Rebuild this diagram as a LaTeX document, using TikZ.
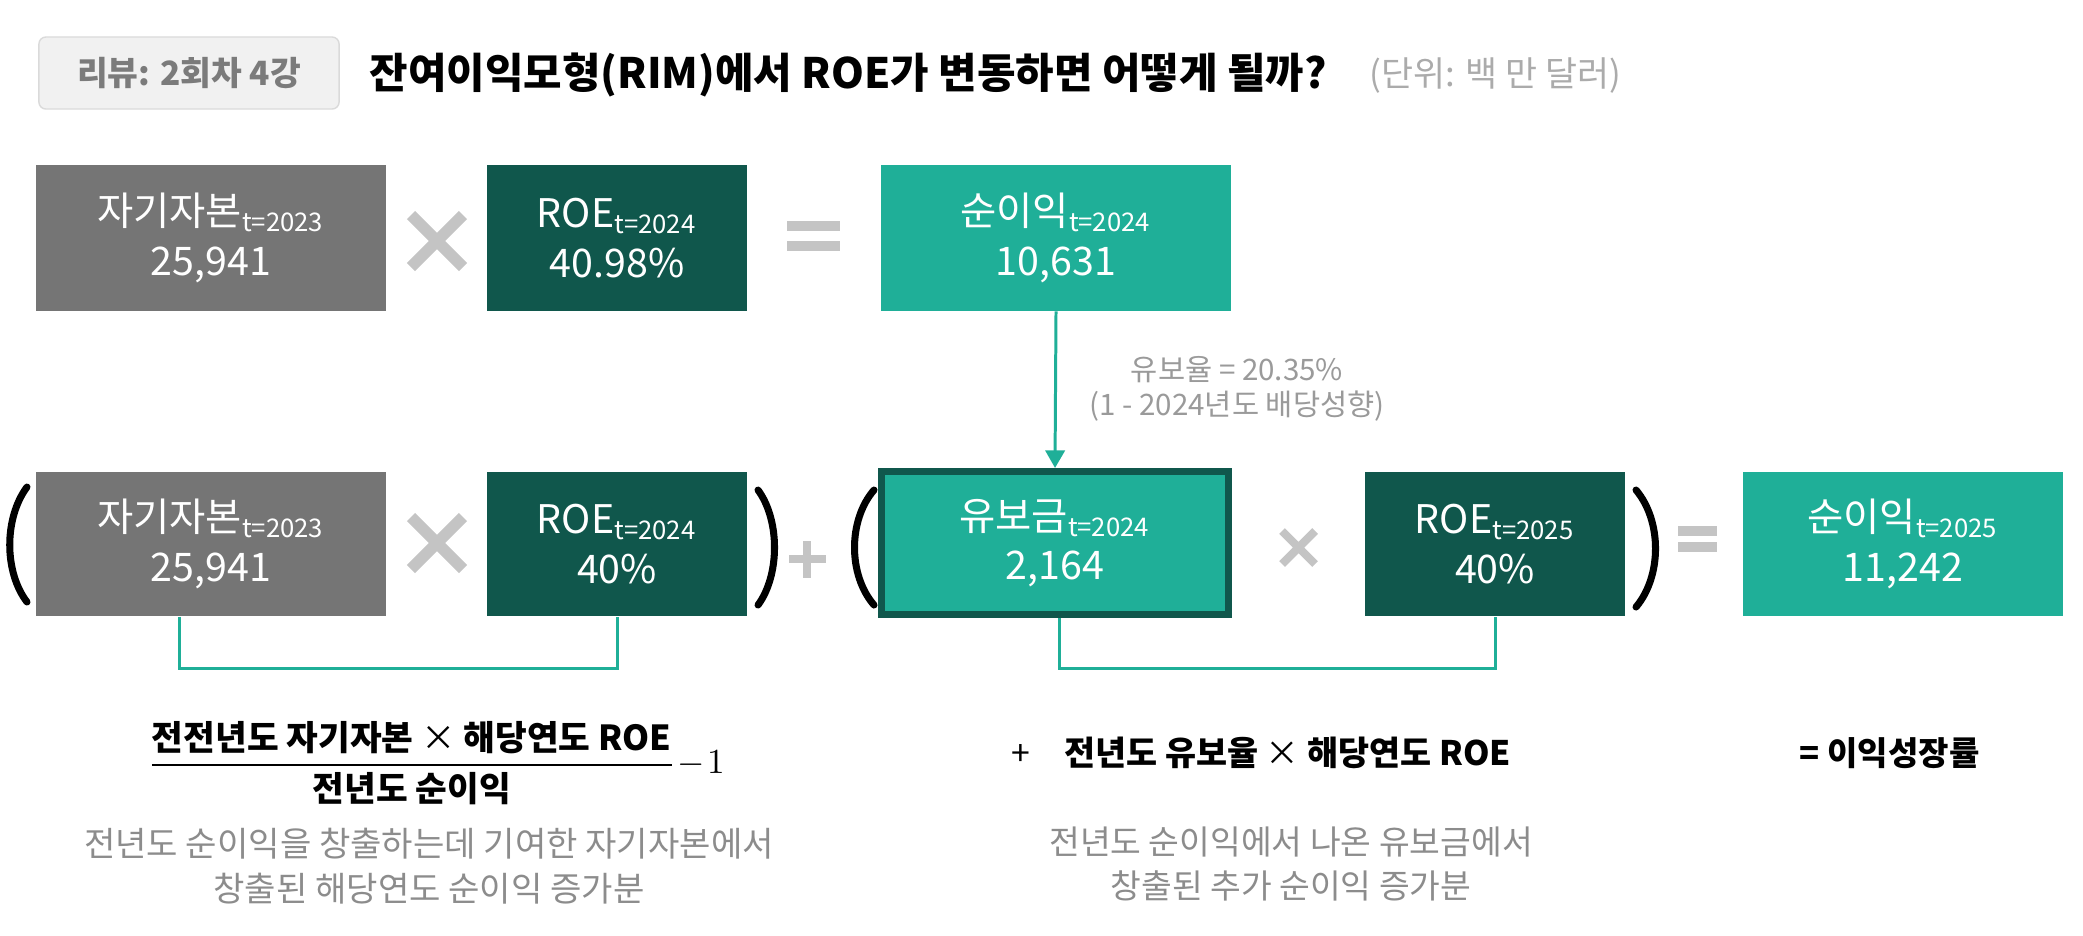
\documentclass[tikz,border=0pt]{standalone}
\usepackage{amsmath}
\usepackage{fontspec}
\setmainfont{Noto Sans CJK KR}
\usetikzlibrary{arrows.meta}

\definecolor{boxgray}{HTML}{757575}
\definecolor{roegreen}{HTML}{10574C}
\definecolor{niteal}{HTML}{1FAF98}
\definecolor{opgray}{HTML}{C4C4C4}
\definecolor{notegray}{HTML}{8C8C8C}
\definecolor{unitgray}{HTML}{ABABAB}
\definecolor{badgefill}{HTML}{F1F1F1}
\definecolor{badgeline}{HTML}{DADADA}
\definecolor{badgetext}{HTML}{7B7B7B}

\newcommand{\yr}[1]{\textsubscript{\fontsize{7.3}{8}\selectfont t=#1}}

\tikzset{
  eqbox/.style={minimum height=1.45cm, inner sep=0pt, text=white, align=center,
    font=\fontsize{11.2}{14}\selectfont},
  txt/.style={inner sep=0pt},
  opline/.style={draw=opgray, line width=3.3pt},
  opthin/.style={draw=opgray, line width=2.3pt},
  paren/.style={line width=2pt, line cap=round},
  link/.style={draw=niteal, line width=0.85pt},
  flow/.style={link, -{Triangle[length=5pt,width=5.5pt]}},
  note/.style={txt, align=center, text=notegray, font=\fontsize{9.7}{13}\selectfont},
  badge/.style={draw=badgeline, fill=badgefill, rounded corners=2pt, minimum width=3.0cm,
    minimum height=0.72cm, text=badgetext, font=\bfseries\fontsize{9.5}{11}\selectfont}
}

\begin{document}
\begin{tikzpicture}[x=0.01cm, y=-0.01cm]
  \fill[white] (0,0) rectangle (2083,935);
  \useasboundingbox (0,0) rectangle (2083,935);

  % header
  \node[badge] (review) at (189,73) {리뷰: 2회차 4강};
  \node[txt, anchor=west, font=\bfseries\fontsize{11.9}{14}\selectfont] (title) at (369,75)
    {잔여이익모형(RIM)에서 ROE가 변동하면 어떻게 될까?};
  \node[txt, anchor=west, text=unitgray, font=\fontsize{9.9}{11}\selectfont] (unit) at (1369,75)
    {(단위: 백 만 달러)};

  % first row
  \node[eqbox, fill=boxgray, minimum width=3.49cm] (capA) at (211,238)
    {자기자본\yr{2023}\\25,941};
  \node[eqbox, fill=roegreen, minimum width=2.60cm] (roeA) at (617,238)
    {ROE\yr{2024}\\40.98\%};
  \node[eqbox, fill=niteal, minimum width=3.50cm] (niA) at (1056,238)
    {순이익\yr{2024}\\10,631};

  \draw[opline] (411,215) -- (463,267) (411,267) -- (463,215);
  \draw[opline, line width=3.1pt] (787,226) -- (840,226) (787,246) -- (840,246);

  % retention
  \node[note, font=\fontsize{8.4}{10}\selectfont, text=unitgray!90!black] (ratio) at (1237,389)
    {유보율 = 20.35\%\\(1 - 2024년도 배당성향)};

  % second row
  \node[eqbox, fill=boxgray, minimum width=3.50cm, minimum height=1.44cm] (capB) at (211,544)
    {자기자본\yr{2023}\\25,941};
  \node[eqbox, fill=roegreen, minimum width=2.60cm, minimum height=1.44cm] (roeB) at (617,544)
    {ROE\yr{2024}\\40\%};
  \node[eqbox, fill=niteal, draw=roegreen, line width=2pt, minimum width=3.47cm,
    minimum height=1.43cm] (retB) at (1055,543)
    {유보금\yr{2024}\\2,164};
  \node[eqbox, fill=roegreen, minimum width=2.60cm, minimum height=1.44cm] (roeC) at (1495,544)
    {ROE\yr{2025}\\40\%};
  \node[eqbox, fill=niteal, minimum width=3.20cm, minimum height=1.44cm] (niB) at (1903,544)
    {순이익\yr{2025}\\11,242};

  \draw[opline] (411,517) -- (463,569) (411,569) -- (463,517);
  \draw[opthin] (789,559) -- (826,559) (807,541) -- (807,578);
  \draw[opthin] (1282,531) -- (1315,564) (1282,564) -- (1315,531);
  \draw[opthin, line width=2.6pt] (1678,531) -- (1717,531) (1678,547) -- (1717,547);

  \draw[paren] (27,487) .. controls (4,518) and (4,572) .. (27,602);
  \draw[paren] (758,490) .. controls (780,520) and (780,575) .. (758,605);
  \draw[paren] (874,490) .. controls (848,520) and (848,575) .. (874,605);
  \draw[paren] (1636,490) .. controls (1662,521) and (1662,576) .. (1636,607);

  % connectors
  \draw[flow] (niA.south) -- (retB.north);
  \draw[link] ([xshift=-0.31cm]capB.south) -- ++(0,52) -| (roeB.south);
  \draw[link] ([xshift=0.04cm]retB.south) -- ++(0,50) -| (roeC.south);

  % bottom
  \node[txt, anchor=west, font=\fontsize{9.8}{11}\selectfont] (fracA) at (147,763)
    {$\genfrac{}{}{0.6pt}{0}{\mbox{\bfseries 전전년도 자기자본 \mdseries×\bfseries{} 해당연도 ROE}}{\mbox{\bfseries 전년도 순이익}}\!-\!1$};
  \node[note] (descA) at (429,866)
    {전년도 순이익을 창출하는데 기여한 자기자본에서\\창출된 해당연도 순이익 증가분};

  \node[txt, anchor=west, font=\fontsize{9.6}{11}\selectfont] (fracB) at (1011,753)
    {+\quad\textbf{전년도 유보율} × \textbf{해당연도 ROE}};
  \node[note, font=\fontsize{9.5}{12.5}\selectfont] (descB) at (1291,864)
    {전년도 순이익에서 나온 유보금에서\\창출된 추가 순이익 증가분};

  \node[txt, anchor=west, font=\bfseries\fontsize{9.4}{11}\selectfont] (growth) at (1799,753)
    {= 이익성장률};
\end{tikzpicture}
\end{document}
